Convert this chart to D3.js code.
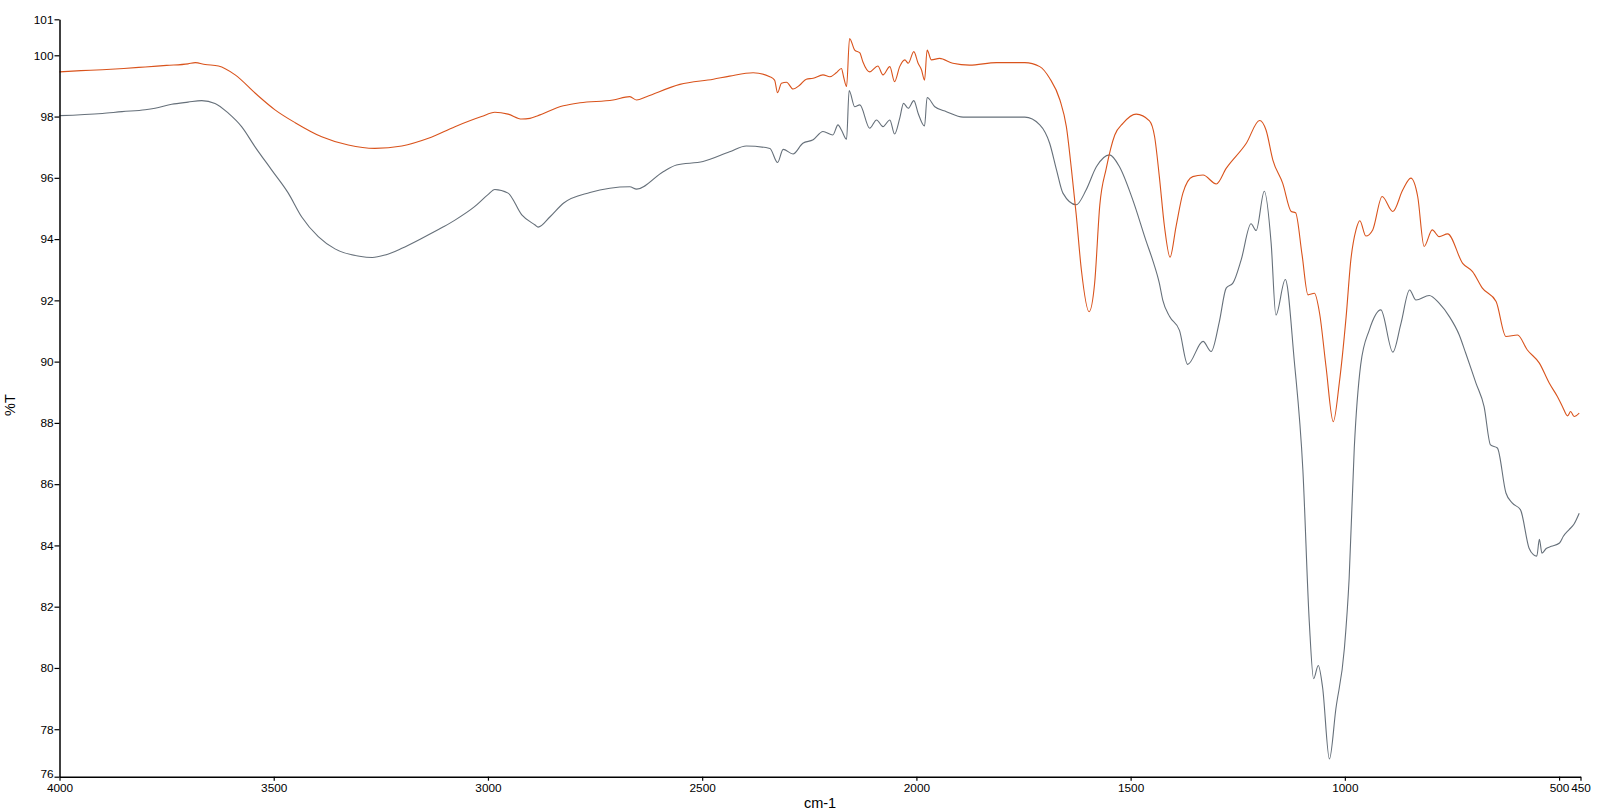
<!DOCTYPE html>
<html>
<head>
<meta charset="utf-8">
<script src="https://cdn.jsdelivr.net/npm/d3@7"></script>
<style>
  html, body { margin: 0; padding: 0; background: #ffffff; }
  svg { display: block; }
  text { font-family: "Liberation Sans", Arial, sans-serif; fill: #000; }
</style>
</head>
<body>
<svg id="chart" width="1617" height="810"></svg>
<script>
// ---- data ----
const xTickValues = [4000, 3500, 3000, 2500, 2000, 1500, 1000, 500, 450];
const yTickValues = [78, 80, 82, 84, 86, 88, 90, 92, 94, 96, 98, 100];
const xDomain = [4000, 450];
const yDomain = [76.45, 101.175];
const xLabel = "cm-1";
const yLabel = "%T";

const orangeWave = [4000,3950,3900,3850,3800,3750,3700,3683,3660,3629,3590,3543,3497,3450,3388,3326,3264,3201,3139,3077,3015,2984,2953,2921,2902,2885,2824,2785,2708,2669,2653,2630,2552,2474,2436,2381,2342,2331,2324,2315,2303,2288,2272,2257,2241,2218,2202,2187,2175,2170,2163,2156,2144,2132,2125,2109,2090,2078,2062,2051,2039,2027,2019,2006,1996,1988,1981,1975,1965,1946,1915,1876,1813,1747,1712,1689,1665,1650,1638,1627,1615,1597,1584,1572,1557,1537,1518,1487,1456,1444,1433,1421,1408,1394,1378,1355,1331,1300,1277,1230,1199,1184,1168,1145,1125,1115,1100,1086,1071,1059,1044,1027,1013,997,986,974,965,951,935,913,888,865,846,830,815,796,780,760,725,702,679,647,624,597,574,546,523,504,492,480,473,465,453];
const orangeT = [99.46,99.50,99.53,99.57,99.62,99.67,99.72,99.76,99.70,99.65,99.36,98.76,98.22,97.80,97.34,97.07,96.96,97.04,97.29,97.67,98.00,98.14,98.08,97.92,97.94,98.02,98.35,98.45,98.54,98.65,98.54,98.65,99.05,99.22,99.32,99.43,99.30,99.19,98.78,99.09,99.12,98.90,99.03,99.22,99.25,99.36,99.30,99.43,99.57,99.30,98.98,100.55,100.17,100.08,99.79,99.46,99.65,99.36,99.63,99.14,99.63,99.85,99.74,100.12,99.74,99.52,99.19,100.17,99.85,99.90,99.74,99.68,99.76,99.76,99.63,99.25,98.54,97.67,96.26,94.80,93.00,91.63,92.56,95.10,96.30,97.40,97.78,98.08,97.86,97.34,96.04,94.41,93.41,94.41,95.50,96.04,96.09,95.80,96.31,97.13,97.87,97.56,96.58,95.82,94.90,94.86,93.50,92.18,92.23,91.58,89.84,88.04,89.30,91.47,93.32,94.30,94.60,94.10,94.30,95.39,94.90,95.60,95.99,95.39,93.76,94.30,94.08,94.17,93.21,92.94,92.40,91.96,90.82,90.87,90.38,89.95,89.30,88.86,88.53,88.23,88.37,88.21,88.32];

const grayWave = [4000,3900,3854,3800,3777,3738,3700,3668,3637,3606,3575,3544,3505,3466,3435,3396,3357,3300,3270,3240,3201,3155,3104,3077,3032,3000,2984,2953,2921,2890,2883,2855,2824,2762,2669,2653,2591,2560,2498,2436,2397,2342,2324,2311,2288,2265,2241,2218,2195,2183,2175,2163,2157,2144,2132,2109,2093,2078,2062,2051,2039,2030,2019,2006,1996,1981,1975,1957,1930,1891,1813,1747,1712,1689,1673,1658,1627,1604,1580,1549,1526,1495,1463,1448,1433,1425,1409,1386,1367,1331,1312,1293,1277,1261,1242,1219,1207,1188,1172,1161,1139,1118,1098,1083,1073,1062,1052,1036,1021,1001,990,978,963,943,916,888,869,849,834,803,780,756,733,718,694,675,660,644,624,609,590,570,560,552,546,540,530,518,499,490,477,465,453];
const grayT = [98.03,98.10,98.16,98.22,98.27,98.40,98.47,98.52,98.43,98.11,97.67,97.02,96.26,95.50,94.73,94.08,93.68,93.44,93.40,93.48,93.70,94.02,94.40,94.62,95.05,95.45,95.62,95.50,94.79,94.46,94.39,94.73,95.17,95.52,95.71,95.63,96.20,96.42,96.53,96.85,97.04,96.96,96.50,96.93,96.78,97.13,97.24,97.51,97.40,97.73,97.56,97.26,98.85,98.32,98.38,97.62,97.89,97.67,97.89,97.43,97.94,98.43,98.27,98.52,98.11,97.69,98.62,98.32,98.16,97.98,97.98,97.98,97.73,97.13,96.26,95.50,95.12,95.60,96.36,96.75,96.36,95.28,93.90,93.29,92.56,92.01,91.47,91.02,89.91,90.66,90.33,91.30,92.40,92.57,93.32,94.50,94.28,95.56,93.86,91.52,92.68,90.02,86.47,81.50,79.65,80.08,79.37,77.03,78.66,80.65,82.92,87.18,89.90,91.03,91.69,90.31,91.25,92.34,92.01,92.16,91.91,91.47,90.87,90.28,89.30,88.53,87.28,87.18,85.71,85.38,85.16,83.91,83.70,83.65,84.20,83.75,83.90,83.97,84.08,84.30,84.51,84.70,85.05];

// ---- chart ----
const svg = d3.select("#chart");
const plotLeft = 59.5, plotRight = 1580.5, plotTop = 19.3, plotBottom = 776.7;

const x = d3.scaleLinear().domain(xDomain).range([plotLeft, plotRight]);
const y = d3.scaleLinear().domain(yDomain).range([plotBottom, plotTop]);

const line = d3.line()
  .x(d => x(d[0]))
  .y(d => y(d[1]))
  .curve(d3.curveMonotoneX);

const series = [
  { wave: grayWave, t: grayT, color: "#66707a" },
  { wave: orangeWave, t: orangeT, color: "#d9531c" }
];

series.forEach(s => {
  const pts = s.wave.map((w, i) => [w, s.t[i]]);
  svg.append("path")
    .attr("d", line(pts))
    .attr("fill", "none")
    .attr("stroke", s.color)
    .attr("stroke-width", 1.1)
    .attr("stroke-linejoin", "round");
});

// axes
const yTicksAll = [yDomain[0], ...yTickValues, yDomain[1]];
const yAxis = d3.axisLeft(y)
  .tickValues(yTicksAll)
  .tickFormat(d3.format(".0f"))
  .tickSize(5)
  .tickSizeOuter(0)
  .tickPadding(1);

const xAxis = d3.axisBottom(x)
  .tickValues(xTickValues)
  .tickFormat(d3.format("d"))
  .tickSize(4)
  .tickSizeOuter(0)
  .tickPadding(2.5);

const gx = svg.append("g")
  .attr("transform", `translate(0,${plotBottom})`)
  .call(xAxis);
const gy = svg.append("g")
  .attr("transform", `translate(${plotLeft},0)`)
  .call(yAxis);

[gx, gy].forEach(g => {
  g.select(".domain").attr("stroke", "#000").attr("stroke-width", 1.5);
  g.selectAll(".tick line").attr("stroke", "#000").attr("stroke-width", 1.2);
  g.selectAll(".tick text")
    .attr("font-family", "'Liberation Sans', Arial, sans-serif")
    .attr("font-size", 11.8)
    .attr("fill", "#000");
});

// nudge the bottom end label ("76") up slightly so it clears the "4000" label
gy.selectAll(".tick text").filter(d => d === yDomain[0]).attr("y", -2.5);

svg.append("text")
  .attr("x", (plotLeft + plotRight) / 2)
  .attr("y", 808)
  .attr("text-anchor", "middle")
  .attr("font-size", 14.5)
  .text(xLabel);

svg.append("text")
  .attr("transform", `translate(15,405) rotate(-90)`)
  .attr("text-anchor", "middle")
  .attr("font-size", 14.5)
  .text(yLabel);
</script>
</body>
</html>
